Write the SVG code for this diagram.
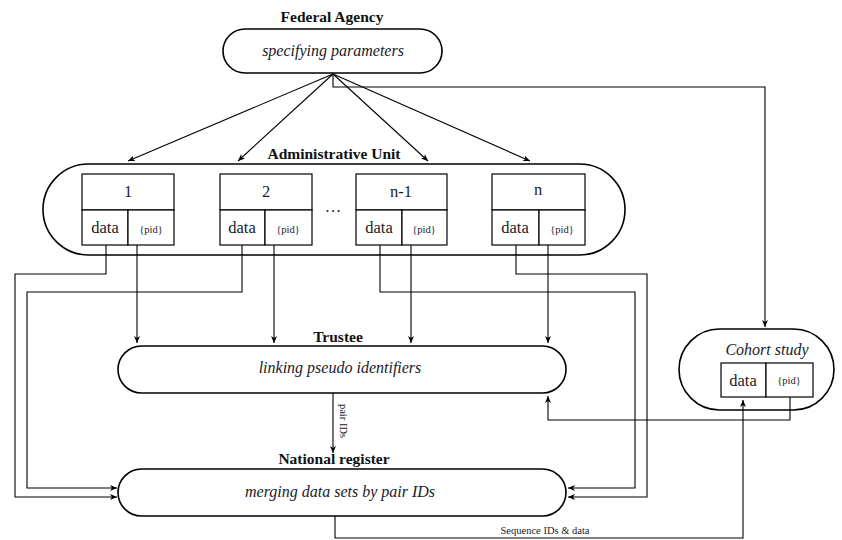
<svg xmlns="http://www.w3.org/2000/svg" width="842" height="540" viewBox="0 0 842 540">
<defs>
<marker id="ah" markerWidth="8" markerHeight="8" refX="7" refY="4" orient="auto" markerUnits="userSpaceOnUse">
<path d="M0,1 L7,4 L0,7 L2,4 Z" fill="#000"/>
</marker>
<style>
.pill{fill:#fff;stroke:#000;stroke-width:1.6}
.box{fill:#fff;stroke:#000;stroke-width:1.2}
.ln{fill:none;stroke:#000;stroke-width:1.1}
.ttl{font-family:"Liberation Serif","Times New Roman",serif;font-weight:bold;font-size:15.5px;text-anchor:middle;fill:#111}
.it{font-family:"Liberation Serif","Times New Roman",serif;font-style:italic;font-size:16px;text-anchor:middle;fill:#1a1a2a}
.t{font-family:"Liberation Serif","Times New Roman",serif;font-size:16.5px;text-anchor:middle;fill:#1a1a2a}
.s{font-family:"Liberation Serif","Times New Roman",serif;font-size:10.5px;text-anchor:middle;fill:#1a1a2a}
</style>
</defs>
<rect width="842" height="540" fill="#fff"/>

<g id="federal-agency">
<text class="ttl" x="332" y="22">Federal Agency</text>
<rect class="pill" x="223" y="29" width="219" height="44" rx="22"/>
<text class="it" x="333" y="56">specifying parameters</text>
</g>

<g id="administrative-unit">
<text class="ttl" x="334" y="159">Administrative Unit</text>
<rect class="pill" x="43" y="164" width="582" height="91" rx="45.5"/>
<g id="unit-1">
<rect class="box" x="82" y="174" width="92" height="36"/>
<rect class="box" x="82" y="210" width="46" height="35"/>
<rect class="box" x="128" y="210" width="46" height="35"/>
<text class="t" x="128" y="197">1</text>
<text class="t" x="105" y="233">data</text>
<text class="s" x="151" y="233">{pid}</text>
</g>
<g id="unit-2">
<rect class="box" x="220" y="174" width="92" height="36"/>
<rect class="box" x="220" y="210" width="45" height="35"/>
<rect class="box" x="265" y="210" width="47" height="35"/>
<text class="t" x="266" y="197">2</text>
<text class="t" x="242" y="233">data</text>
<text class="s" x="288" y="233">{pid}</text>
</g>
<text class="t" x="333" y="212">…</text>
<g id="unit-n-1">
<rect class="box" x="356" y="174" width="91" height="36"/>
<rect class="box" x="356" y="210" width="46" height="35"/>
<rect class="box" x="402" y="210" width="45" height="35"/>
<text class="t" x="401" y="197">n-1</text>
<text class="t" x="379" y="233">data</text>
<text class="s" x="424" y="233">{pid}</text>
</g>
<g id="unit-n">
<rect class="box" x="492" y="174" width="93" height="36"/>
<rect class="box" x="492" y="210" width="47" height="35"/>
<rect class="box" x="539" y="210" width="46" height="35"/>
<text class="t" x="538" y="195">n</text>
<text class="t" x="515" y="233">data</text>
<text class="s" x="562" y="233">{pid}</text>
</g>
</g>

<g id="trustee">
<text class="ttl" x="338" y="342">Trustee</text>
<rect class="pill" x="118" y="346" width="448" height="47" rx="23.5"/>
<text class="it" x="340" y="373">linking pseudo identifiers</text>
</g>

<g id="national-register">
<text class="ttl" x="334" y="464">National register</text>
<rect class="pill" x="118" y="469" width="448" height="47" rx="23.5"/>
<text class="it" x="340" y="497">merging data sets by pair IDs</text>
</g>

<g id="cohort-study">
<rect class="pill" x="679" y="329" width="155" height="81" rx="40.5"/>
<text class="it" x="767" y="355">Cohort study</text>
<rect class="box" x="721" y="363" width="45" height="34"/>
<rect class="box" x="766" y="363" width="47" height="34"/>
<text class="t" x="743" y="386">data</text>
<text class="s" x="789" y="384">{pid}</text>
</g>

<g id="connectors">
<line class="ln" x1="333" y1="74" x2="128" y2="161" marker-end="url(#ah)"/>
<line class="ln" x1="333" y1="74" x2="238" y2="161" marker-end="url(#ah)"/>
<line class="ln" x1="333" y1="74" x2="428" y2="161" marker-end="url(#ah)"/>
<line class="ln" x1="333" y1="74" x2="530" y2="161" marker-end="url(#ah)"/>
<polyline class="ln" points="333,73 333,87 765,87 765,327" marker-end="url(#ah)"/>

<line class="ln" x1="137" y1="245" x2="137" y2="343" marker-end="url(#ah)"/>
<line class="ln" x1="274" y1="245" x2="274" y2="343" marker-end="url(#ah)"/>
<line class="ln" x1="411" y1="245" x2="411" y2="343" marker-end="url(#ah)"/>
<line class="ln" x1="548" y1="245" x2="548" y2="343" marker-end="url(#ah)"/>

<polyline class="ln" points="106,245 106,274 15,274 15,497 117,497" marker-end="url(#ah)"/>
<polyline class="ln" points="242,245 242,292 27,292 27,488 117,488" marker-end="url(#ah)"/>
<polyline class="ln" points="380,245 380,292 635,292 635,488 568,488" marker-end="url(#ah)"/>
<polyline class="ln" points="516,245 516,274 647,274 647,497 568,497" marker-end="url(#ah)"/>

<line class="ln" x1="333" y1="393" x2="333" y2="453" marker-end="url(#ah)"/>
<text class="s" transform="translate(340,421) rotate(90)" font-size="11">pair IDs</text>

<polyline class="ln" points="790,397 790,420 548,420 548,396" marker-end="url(#ah)"/>

<polyline class="ln" points="335,516 335,538 743,538 743,400" marker-end="url(#ah)"/>
<text class="s" x="545" y="534">Sequence IDs &amp; data</text>
</g>
</svg>
